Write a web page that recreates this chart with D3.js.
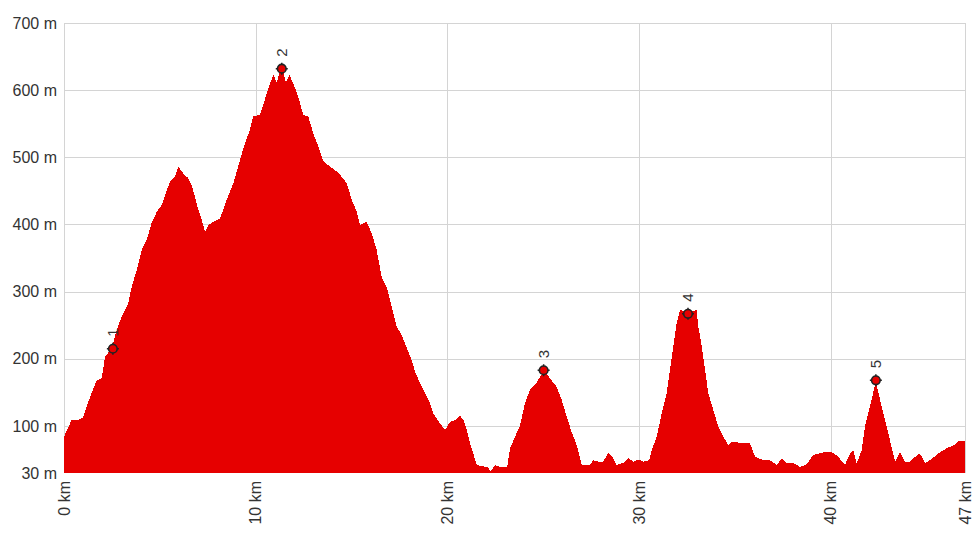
<!DOCTYPE html>
<html>
<head>
<meta charset="utf-8">
<script src="https://cdn.jsdelivr.net/npm/d3@7"></script>
<style>
  body { margin: 0; background: #fff; }
  text { font-family: Arial, "Liberation Sans", sans-serif; fill: #333; }
</style>
</head>
<body>
<div id="profile-chart"></div>
<script>
// distance along the track (km) and elevation (m)
var dist = [0, 0.40, 0.73, 0.99, 1.18, 1.44, 1.71, 1.97, 2.14, 2.49, 2.75, 3.01, 3.35, 3.53, 3.79,
  4.05, 4.31, 4.57, 4.84, 5.10, 5.36, 5.53, 5.79, 5.96, 6.22, 6.48, 6.66, 6.83, 7.01, 7.18, 7.36,
  7.53, 7.79, 8.14, 8.31, 8.49, 8.66, 8.83, 9.18, 9.44, 9.70, 9.87, 10.22, 10.40, 10.57, 10.75,
  10.92, 11.10, 11.23, 11.41, 11.58, 11.75, 11.96, 12.22, 12.48, 12.74, 13.00, 13.27, 13.53,
  13.88, 14.23, 14.49, 14.75, 15.01, 15.27, 15.44, 15.79, 16.05, 16.31, 16.57, 16.83, 17.09,
  17.36, 17.62, 17.88, 18.14, 18.31, 18.57, 18.83, 19.09, 19.26, 19.61, 19.87, 20.14, 20.40,
  20.66, 20.83, 21.01, 21.18, 21.35, 21.53, 21.87, 22.13, 22.26, 22.48, 22.74, 23.12, 23.27,
  23.53, 23.79, 24.05, 24.31, 24.57, 24.83, 25.05, 25.35, 25.70, 25.96, 26.22, 26.48, 26.74,
  27.01, 27.44, 27.61, 27.87, 28.13, 28.39, 28.65, 28.83, 29.18, 29.44, 29.70, 29.96, 30.22,
  30.53, 30.66, 30.92, 31.18, 31.44, 31.61, 31.78, 31.96, 32.13, 32.56, 33.00, 33.09, 33.27,
  33.44, 33.61, 33.87, 34.13, 34.39, 34.65, 34.83, 35.26, 35.79, 36.05, 36.48, 36.83, 37.18,
  37.44, 37.70, 38.05, 38.39, 38.74, 39.09, 39.53, 39.87, 40.13, 40.39, 40.74, 41.00, 41.17,
  41.35, 41.61, 41.78, 42.04, 42.35, 42.65, 42.91, 43.17, 43.35, 43.61, 43.87, 44.13, 44.39,
  44.65, 44.91, 45.17, 45.61, 46.05, 46.48, 46.65, 47.0];
var elev = [84, 109, 109, 113, 129, 149, 168, 171, 203, 216, 243, 263, 283, 307, 332,
  362, 377, 402, 419, 429, 451, 464, 471, 486, 476, 469, 459, 441, 422, 407, 389,
  399, 404, 409, 422, 437, 449, 461, 496, 521, 541, 561, 563, 578, 595, 610,
  623, 611, 625, 631, 611, 623, 610, 590, 563, 561, 536, 516, 494,
  486, 479, 471, 461, 437, 419, 399, 404, 387, 362, 322, 307, 278,
  248, 235, 216, 198, 181, 164, 149, 134, 119, 104, 94, 106, 109,
  115, 109, 94, 74, 59, 42, 40, 38, 32, 42, 39, 39, 67,
  84, 101, 134, 154, 161, 173, 183, 171, 158, 139, 114, 91, 72,
  42, 42, 49, 47, 47, 60, 52, 42, 45, 52, 47, 50, 47,
  49, 64, 84, 119, 149, 183, 218, 253, 273, 268, 273, 248, 218,
  183, 149, 124, 99, 84, 72, 77, 75, 74, 54, 49, 49, 42,
  52, 45, 45, 39, 43, 57, 60, 62, 60, 54, 42, 59, 64,
  44, 64, 99, 129, 166, 129, 99, 69, 47, 62, 47, 47, 54,
  59, 45, 49, 59, 67, 72, 77, 77];

// numbered waypoints
var wpLabels = ["1", "2", "3", "4", "5"];
var wpDist = [2.55, 11.36, 25.02, 32.55, 42.35];
var wpElev = [215, 632, 183, 267, 168];

var yTicks = [30, 100, 200, 300, 400, 500, 600, 700];
var xTicks = [0, 10, 20, 30, 40, 47];

var margin = {top: 23, right: 14, bottom: 72, left: 64};
var width = 979 - margin.left - margin.right;
var height = 545 - margin.top - margin.bottom;

var data = dist.map(function(d, i) { return {km: d, m: elev[i]}; });

var svg = d3.select("#profile-chart")
  .append("svg")
  .attr("width", width + margin.left + margin.right)
  .attr("height", height + margin.top + margin.bottom)
  .append("g")
  .attr("transform", "translate(" + margin.left + "," + margin.top + ")");

var xScale = d3.scaleLinear().domain([0, 47]).range([0, width]);
var yScale = d3.scaleLinear().domain([30, 700]).range([height, 0]);

// grid
svg.append("g")
  .selectAll("line.h")
  .data(yTicks.filter(function(t) { return t > 30; }))
  .enter().append("line")
  .attr("x1", 0).attr("x2", width)
  .attr("y1", function(d) { return Math.round(yScale(d)) + 0.5; })
  .attr("y2", function(d) { return Math.round(yScale(d)) + 0.5; })
  .style("stroke", "#d4d4d4");

svg.append("g")
  .selectAll("line.v")
  .data(xTicks)
  .enter().append("line")
  .attr("y1", 0).attr("y2", height)
  .attr("x1", function(d) { return Math.round(xScale(d)) + 0.5; })
  .attr("x2", function(d) { return Math.round(xScale(d)) + 0.5; })
  .style("stroke", "#d4d4d4");

// elevation area
var area = d3.area()
  .x(function(d) { return xScale(d.km); })
  .y0(height)
  .y1(function(d) { return yScale(d.m); });

svg.append("path")
  .datum(data)
  .attr("d", area)
  .attr("shape-rendering", "crispEdges")
  .style("fill", "#e60000");

// axes labels
svg.append("g")
  .selectAll("text")
  .data(yTicks)
  .enter().append("text")
  .attr("x", -7)
  .attr("y", function(d) { return yScale(d); })
  .attr("dy", "0.35em")
  .attr("text-anchor", "end")
  .style("font-size", "16px")
  .text(function(d) { return d + " m"; });

svg.append("g")
  .selectAll("text")
  .data(xTicks)
  .enter().append("text")
  .attr("transform", function(d) {
    return "translate(" + xScale(d) + "," + (height + 8) + ") rotate(-90)";
  })
  .attr("dy", "0.35em")
  .attr("text-anchor", "end")
  .style("font-size", "16px")
  .text(function(d) { return d + " km"; });

// waypoints
var wp = svg.append("g")
  .selectAll("g")
  .data(wpLabels)
  .enter().append("g")
  .attr("transform", function(d, i) {
    return "translate(" + xScale(wpDist[i]) + "," + yScale(wpElev[i]) + ")";
  });

wp.append("path")
  .attr("d", "M0,-6V-4M0,4V6M-6,0H-4M4,0H6")
  .style("stroke", "#222")
  .style("stroke-width", 1.5);

wp.append("circle")
  .attr("r", 4.3)
  .style("fill", "#e60000")
  .style("stroke", "#222")
  .style("stroke-width", 1.6);

wp.append("text")
  .attr("transform", "translate(0,-12) rotate(-90)")
  .attr("dy", "0.35em")
  .attr("text-anchor", "start")
  .style("font-size", "15px")
  .text(function(d) { return d; });
</script>
</body>
</html>
